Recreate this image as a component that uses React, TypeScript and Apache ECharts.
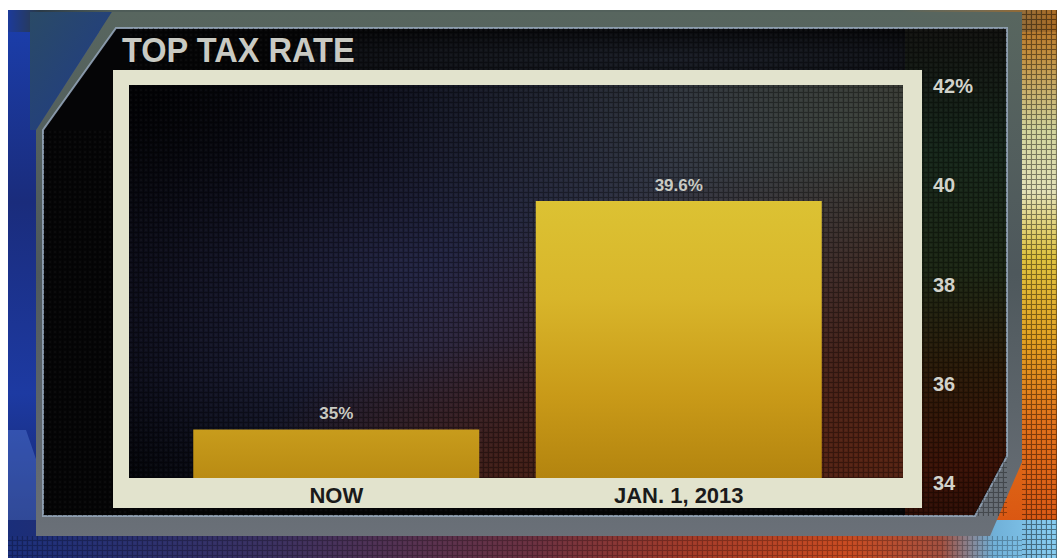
import { useEffect, useRef } from "react";
import * as echarts from "echarts";

// Chart data
const chartTitle = "TOP TAX RATE";
const categories = ["NOW", "JAN. 1, 2013"];
const topRate = [35, 39.6];
const rateTicks = [34, 36, 38, 40, 42];

const FONT = '"Liberation Sans", Arial, sans-serif';

// Halftone screen texture as an inline SVG pattern
function screenTexture(w: number, h: number): string {
  const svg =
    `<svg xmlns='http://www.w3.org/2000/svg' width='${w}' height='${h}'>` +
    `<defs><pattern id='p' width='5' height='5' patternUnits='userSpaceOnUse'>` +
    `<path d='M0 4.5H5M4.5 0V5' stroke='black' stroke-opacity='0.55' stroke-width='1.2'/>` +
    `<circle cx='2' cy='2' r='1' fill='white' fill-opacity='0.05'/>` +
    `</pattern></defs><rect width='100%' height='100%' fill='url(#p)'/></svg>`;
  return "data:image/svg+xml;charset=utf-8," + encodeURIComponent(svg);
}

const lin = (x0: number, y0: number, x1: number, y1: number, stops: [number, string][]) =>
  new echarts.graphic.LinearGradient(x0, y0, x1, y1, stops.map(([offset, color]) => ({ offset, color })));
const rad = (cx: number, cy: number, r: number, stops: [number, string][]) =>
  new echarts.graphic.RadialGradient(cx, cy, r, stops.map(([offset, color]) => ({ offset, color })));

const textureAt = (x: number, y: number, width: number, height: number, opacity: number) => ({
  type: "image",
  silent: true,
  z: 4,
  style: { image: screenTexture(width, height), x, y, width, height, opacity },
});

export default function App() {
  const ref = useRef<HTMLDivElement>(null);

  useEffect(() => {
    if (!ref.current) return;
    const chart = echarts.init(ref.current, null, { renderer: "svg" });

    const plot = { x: 128, y: 83, width: 777, height: 397 };
    const cream = "#e2e3cd";

    const graphic: any[] = [
      // surrounding studio backdrop
      { type: "rect", silent: true, z: 1, shape: { x: 8, y: 10, width: 120, height: 548 },
        style: { fill: lin(0, 0, 0, 1, [[0, "#1b3fae"], [0.35, "#1a2c7c"], [0.7, "#1d3aa2"], [1, "#13205e"]]) } },
      { type: "polygon", silent: true, z: 1, shape: { points: [[8, 430], [26, 430], [70, 558], [8, 558]] },
        style: { fill: "rgba(100,140,230,0.35)" } },
      { type: "rect", silent: true, z: 1, shape: { x: 990, y: 10, width: 67, height: 548 },
        style: { fill: lin(0, 0, 0, 1, [[0, "#ad661e"], [0.08, "#c08c3c"], [0.22, "#d2d49c"], [0.33, "#e4e2b8"], [0.45, "#dfc23e"], [0.6, "#e2a020"], [0.75, "#e07018"], [1, "#d84e10"]]) } },
      { type: "rect", silent: true, z: 1, shape: { x: 8, y: 520, width: 1049, height: 38 },
        style: { fill: lin(0, 0, 1, 0, [[0, "#1a2e7a"], [0.25, "#3a3060"], [0.5, "#6a3040"], [0.65, "#a23a28"], [0.8, "#c84a20"], [0.89, "#a25040"], [0.94, "#70b0d8"], [1, "#86cdf2"]]) } },
      { type: "rect", silent: true, z: 1, shape: { x: 8, y: 10, width: 1049, height: 22 },
        style: { fill: lin(0, 0, 1, 0, [[0, "#1c3a9a"], [0.03, "#2a3a48"], [0.1, "#4e5c58"], [0.85, "#56645e"], [0.93, "#7a6a4c"], [1, "#a86a22"]]) } },
      { type: "polygon", silent: true, z: 1, shape: { points: [[30, 12], [112, 12], [36, 130], [30, 130]] },
        style: { fill: lin(0, 0, 1, 1, [[0, "#2a4a66"], [1, "#1f3a8a"]]) } },
      // metallic frame
      { type: "polygon", silent: true, z: 2, shape: { points: [[112, 12], [1022, 12], [1022, 462], [990, 536], [36, 536], [36, 130]] },
        style: { fill: lin(0, 0, 0, 1, [[0, "#58665f"], [0.5, "#4e585c"], [1, "#6a7078"]]) } },
      // dark panel
      { type: "polygon", silent: true, z: 2, shape: { points: [[116, 28], [1007, 28], [1007, 456], [975, 516], [43, 516], [43, 130]] },
        style: { fill: "#050506", stroke: "rgba(150,168,188,0.85)", lineWidth: 2 } },
      { type: "polygon", silent: true, z: 2, shape: { points: [[905, 29], [1006, 29], [1006, 455], [974, 515], [905, 515]] },
        style: { fill: lin(0, 0, 0, 1, [[0, "#121210"], [0.25, "#16261a"], [0.5, "#1c2614"], [0.7, "#2a1a08"], [0.9, "#3a1206"], [1, "#2e0e05"]]) } },
      { type: "rect", silent: true, z: 2, shape: { x: 300, y: 29, width: 605, height: 42 },
        style: { fill: rad(0.6, 0.7, 0.9, [[0, "rgba(40,46,60,0.6)"], [1, "rgba(40,46,60,0)"]]) } },
      // plot backdrop
      { type: "rect", silent: true, z: 3, shape: plot,
        style: { fill: lin(0, 0, 1, 0, [[0, "#030408"], [0.4, "#131726"], [0.72, "#1f1e2a"], [1, "#2a2220"]]) } },
      { type: "rect", silent: true, z: 3, shape: plot,
        style: { fill: rad(0.35, 0.45, 0.65, [[0, "rgba(72,72,135,0.45)"], [1, "rgba(72,72,135,0)"]]) } },
      { type: "rect", silent: true, z: 3, shape: plot,
        style: { fill: rad(0.92, 0.1, 0.6, [[0, "rgba(85,105,92,0.45)"], [1, "rgba(85,105,92,0)"]]) } },
      { type: "rect", silent: true, z: 3, shape: plot,
        style: { fill: rad(0.95, 0.95, 0.75, [[0, "rgba(105,35,12,0.7)"], [1, "rgba(105,35,12,0)"]]) } },
      { type: "rect", silent: true, z: 3, shape: plot,
        style: { fill: rad(0.5, 1, 0.35, [[0, "rgba(80,30,12,0.6)"], [1, "rgba(80,30,12,0)"]]) } },
      { type: "rect", silent: true, z: 3, shape: plot,
        style: { fill: rad(0.02, 0.05, 0.7, [[0, "rgba(0,0,0,0.75)"], [1, "rgba(0,0,0,0)"]]) } },
      // screen texture on the panel and the right-hand backdrop
      textureAt(129, 28, 878, 488, 0.6),
      textureAt(43, 130, 86, 386, 0.6),
      textureAt(1022, 10, 35, 548, 0.8),
      textureAt(8, 536, 1014, 22, 0.45),
      // cream frame around the plot
      { type: "rect", silent: true, z: 6, shape: { x: 113, y: 70, width: 809, height: 15 }, style: { fill: cream } },
      { type: "rect", silent: true, z: 6, shape: { x: 113, y: 70, width: 16, height: 438 }, style: { fill: cream } },
      { type: "rect", silent: true, z: 6, shape: { x: 903, y: 70, width: 19, height: 438 }, style: { fill: cream } },
      { type: "rect", silent: true, z: 6, shape: { x: 113, y: 478, width: 809, height: 30 }, style: { fill: cream } },
      // title
      { type: "text", silent: true, z: 7, x: 122, y: 50, scaleX: 0.93,
        style: { text: chartTitle, fill: "#c9cac3", font: `bold 35px ${FONT}`, textVerticalAlign: "middle" } },
    ];

    chart.setOption({
      animation: false,
      backgroundColor: "#ffffff",
      graphic,
      grid: { left: 165, right: 207, top: 82, bottom: 558 - 479 },
      xAxis: {
        type: "category",
        data: categories,
        z: 8,
        axisLine: { show: false },
        axisTick: { show: false },
        axisLabel: { margin: 5, color: "#1a1a1a", fontFamily: FONT, fontWeight: "bold", fontSize: 22 },
      },
      yAxis: {
        type: "value",
        position: "right",
        min: rateTicks[0],
        max: rateTicks[rateTicks.length - 1],
        interval: rateTicks[1] - rateTicks[0],
        z: 8,
        splitLine: { show: false },
        axisLine: { show: false },
        axisTick: { show: false },
        axisLabel: {
          margin: 83,
          verticalAlign: "top",
          lineHeight: 8,
          color: "#d2d3cb",
          fontFamily: FONT,
          fontWeight: "bold",
          fontSize: 20,
          formatter: (v: number) => (v === rateTicks[rateTicks.length - 1] ? `${v}%` : `${v}`),
        },
      },
      series: [
        {
          type: "bar",
          z: 5,
          barWidth: 286,
          data: topRate.map((v, i) => ({
            value: v,
            itemStyle: {
              color:
                i === 0
                  ? lin(0, 0, 0, 1, [[0, "#c89c1c"], [1, "#b98b13"]])
                  : lin(0, 0, 0, 1, [[0, "#dcc233"], [0.35, "#d8b52a"], [0.7, "#c99a18"], [1, "#b3840f"]]),
            },
          })),
          label: {
            show: true,
            position: "top",
            distance: 7,
            color: "#c9cac2",
            fontFamily: FONT,
            fontWeight: "bold",
            fontSize: 17,
            formatter: (p: any) => `${p.value}%`,
          },
        },
      ],
    });

    return () => chart.dispose();
  }, []);

  return (
    <div
      ref={ref}
      style={{ position: "fixed", left: 0, top: 0, width: 1057, height: 558 }}
    />
  );
}
